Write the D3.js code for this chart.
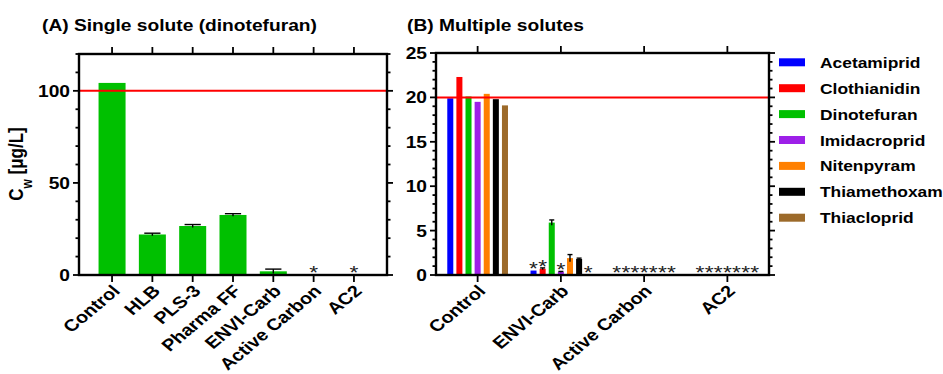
<!DOCTYPE html>
<html>
<head>
<meta charset="utf-8">
<script src="https://cdn.jsdelivr.net/npm/d3@7"></script>
<style>
  body { margin: 0; background: #fff; }
  text { font-family: "Liberation Sans", Arial, sans-serif; font-weight: bold; fill: #000; }
  text.star { font-weight: normal; fill: #222; }
</style>
</head>
<body>
<svg id="chart" width="943" height="374"></svg>
<script>
// ---- data ----
const catsA = ["Control", "HLB", "PLS-3", "Pharma FF", "ENVI-Carb", "Active Carbon", "AC2"];
const valsA = [104.3, 22, 26.6, 32.6, 2, 0, 0];
const errsA = [0, 0.7, 0.8, 0.7, 1.2, 0, 0];
const starsA = [0, 0, 0, 0, 0, 1, 1];
const limitA = 100;

const catsB = ["Control", "ENVI-Carb", "Active Carbon", "AC2"];
const solutes = ["Acetamiprid", "Clothianidin", "Dinotefuran", "Imidacroprid", "Nitenpyram", "Thiamethoxam", "Thiacloprid"];
const colors = ["#0000ff", "#ff0000", "#00c000", "#9d20e8", "#ff8000", "#000000", "#9c6a2a"];
const acetamiprid  = [19.9, 0.5, 0, 0];
const clothianidin = [22.3, 0.7, 0, 0];
const dinotefuran  = [20.1, 5.9, 0, 0];
const imidacloprid = [19.5, 0.35, 0, 0];
const nitenpyram   = [20.4, 1.9, 0, 0];
const thiamethoxam = [19.8, 1.8, 0, 0];
const thiacloprid  = [19.1, 0, 0, 0];
const errsB = [
  [0, 0, 0, 0], [0, 0.1, 0, 0], [0, 0.3, 0, 0], [0, 0.05, 0, 0],
  [0, 0.4, 0, 0], [0, 0.1, 0, 0], [0, 0, 0, 0]
];
// "*" = below detection, per solute per category
const starsB = [
  [0, 1, 1, 1], [0, 1, 1, 1], [0, 0, 1, 1], [0, 1, 1, 1],
  [0, 0, 1, 1], [0, 0, 1, 1], [0, 1, 1, 1]
];
const limitB = 20;
const seriesB = [acetamiprid, clothianidin, dinotefuran, imidacloprid, nitenpyram, thiamethoxam, thiacloprid];

const svg = d3.select("#chart");
const S = 1.2; // the figure is stretched sideways

function label(g, str, x, y, size, anchor, rot) {
  return g.append("text")
    .attr("transform", "translate(" + x + "," + y + ") scale(" + S + ",1)" + (rot ? " rotate(" + rot + ")" : ""))
    .attr("text-anchor", anchor || "start")
    .style("font-size", size + "px")
    .text(str);
}

// vertical axis ticks (major+minor) on a side
function yTicks(g, y, x0, dir, major, minor, max, withLabels) {
  d3.range(0, max + 0.001, minor).forEach(function (v) {
    const isMajor = Math.abs(v / major - Math.round(v / major)) < 1e-6;
    const len = isMajor ? 6 : 3.5;
    g.append("line")
      .attr("x1", x0).attr("x2", x0 + dir * len)
      .attr("y1", y(v)).attr("y2", y(v))
      .attr("stroke", "#000").attr("stroke-width", 1.8);
    if (isMajor && withLabels) {
      label(g, v, x0 - 9, y(v) + 6, 16, "end");
    }
  });
}

function frame(g, x0, x1, y0, y1) {
  g.append("rect")
    .attr("x", x0).attr("y", y0)
    .attr("width", x1 - x0).attr("height", y1 - y0)
    .attr("fill", "none").attr("stroke", "#000").attr("stroke-width", 2.4);
}

function errBar(g, cx, top, err, cap) {
  if (!err) return;
  g.append("line").attr("x1", cx).attr("x2", cx)
    .attr("y1", top(-err)).attr("y2", top(err))
    .attr("stroke", "#000").attr("stroke-width", 1.4);
  g.append("line").attr("x1", cx - cap / 2).attr("x2", cx + cap / 2)
    .attr("y1", top(err)).attr("y2", top(err))
    .attr("stroke", "#000").attr("stroke-width", 1.4);
}

// ================= Panel A =================
const gA = svg.append("g");
const xA = d3.scaleBand().domain(catsA).range([79, 387]).paddingInner(0.33).paddingOuter(0.485);
const yA = d3.scaleLinear().domain([0, 120]).range([275, 54]);

label(gA, "(A) Single solute (dinotefuran)", 42, 31, 16, "start");

gA.selectAll("rect.bar").data(catsA).enter().append("rect")
  .attr("class", "bar")
  .attr("x", d => xA(d))
  .attr("width", xA.bandwidth())
  .attr("y", (d, i) => yA(valsA[i]))
  .attr("height", (d, i) => yA(0) - yA(valsA[i]))
  .attr("fill", "#00c000");

catsA.forEach(function (c, i) {
  const cx = xA(c) + xA.bandwidth() / 2;
  errBar(gA, cx, e => yA(valsA[i] + e), errsA[i], xA.bandwidth() * 0.6);
  if (starsA[i]) label(gA, "*", cx, yA(valsA[i]) + 4, 19, "middle").attr("class", "star");
});

gA.append("line").attr("x1", 79).attr("x2", 387)
  .attr("y1", yA(limitA)).attr("y2", yA(limitA))
  .attr("stroke", "#ff0000").attr("stroke-width", 2);

frame(gA, 79, 387, 54, 275);
yTicks(gA, yA, 79, -1, 50, 10, 120, true);
yTicks(gA, yA, 387, 1, 50, 10, 120, false);

catsA.forEach(function (c) {
  const cx = xA(c) + xA.bandwidth() / 2;
  gA.append("line").attr("x1", cx).attr("x2", cx).attr("y1", 275).attr("y2", 282)
    .attr("stroke", "#000").attr("stroke-width", 1.8);
  gA.append("line").attr("x1", cx).attr("x2", cx).attr("y1", 54).attr("y2", 47)
    .attr("stroke", "#000").attr("stroke-width", 1.8);
  label(gA, c, cx + 9, 292, 16.5, "end", -45);
});

// y axis title
const yt = gA.append("text")
  .attr("transform", "translate(23,164) scale(" + S + ",1) rotate(-90)")
  .attr("text-anchor", "middle")
  .style("font-size", "17px");
yt.append("tspan").text("C");
yt.append("tspan").attr("baseline-shift", "sub").style("font-size", "12px").text("w");
yt.append("tspan").text(" [μg/L]");

// ================= Panel B =================
const gB = svg.append("g");
const xB = d3.scaleBand().domain(catsB).range([436, 769]);
const xIn = d3.scaleBand().domain(solutes).range([-31.9, 31.9]).paddingInner(0.34).paddingOuter(0.17);
const yB = d3.scaleLinear().domain([0, 25]).range([275, 53]);

label(gB, "(B) Multiple solutes", 407, 31, 16, "start");

solutes.forEach(function (s, j) {
  const vals = seriesB[j];
  catsB.forEach(function (c, i) {
    const cx = xB(c) + xB.bandwidth() / 2 + xIn(s) + xIn.bandwidth() / 2;
    if (vals[i] > 0) {
      gB.append("rect")
        .attr("x", cx - xIn.bandwidth() / 2)
        .attr("width", xIn.bandwidth())
        .attr("y", yB(vals[i]))
        .attr("height", yB(0) - yB(vals[i]))
        .attr("fill", colors[j]);
    }
    errBar(gB, cx, e => yB(vals[i] + e), errsB[j][i], 5);
    if (starsB[j][i]) label(gB, "*", cx, yB(vals[i]) + 4, 19, "middle").attr("class", "star");
  });
});

gB.append("line").attr("x1", 436).attr("x2", 769)
  .attr("y1", yB(limitB)).attr("y2", yB(limitB))
  .attr("stroke", "#ff0000").attr("stroke-width", 2);

frame(gB, 436, 769, 53, 275);
yTicks(gB, yB, 436, -1, 5, 1, 25, true);
yTicks(gB, yB, 769, 1, 5, 1, 25, false);

catsB.forEach(function (c) {
  const cx = xB(c) + xB.bandwidth() / 2;
  gB.append("line").attr("x1", cx).attr("x2", cx).attr("y1", 275).attr("y2", 282)
    .attr("stroke", "#000").attr("stroke-width", 1.8);
  gB.append("line").attr("x1", cx).attr("x2", cx).attr("y1", 53).attr("y2", 46)
    .attr("stroke", "#000").attr("stroke-width", 1.8);
  label(gB, c, cx + 9, 292, 16.5, "end", -45);
});

// legend
const lg = svg.append("g");
solutes.forEach(function (s, j) {
  const cy = 62.3 + j * 25.9;
  lg.append("rect").attr("x", 779).attr("y", cy - 4).attr("width", 26).attr("height", 8)
    .attr("fill", colors[j]);
  label(lg, s, 820, cy + 5.5, 14.5, "start");
});
</script>
</body>
</html>
